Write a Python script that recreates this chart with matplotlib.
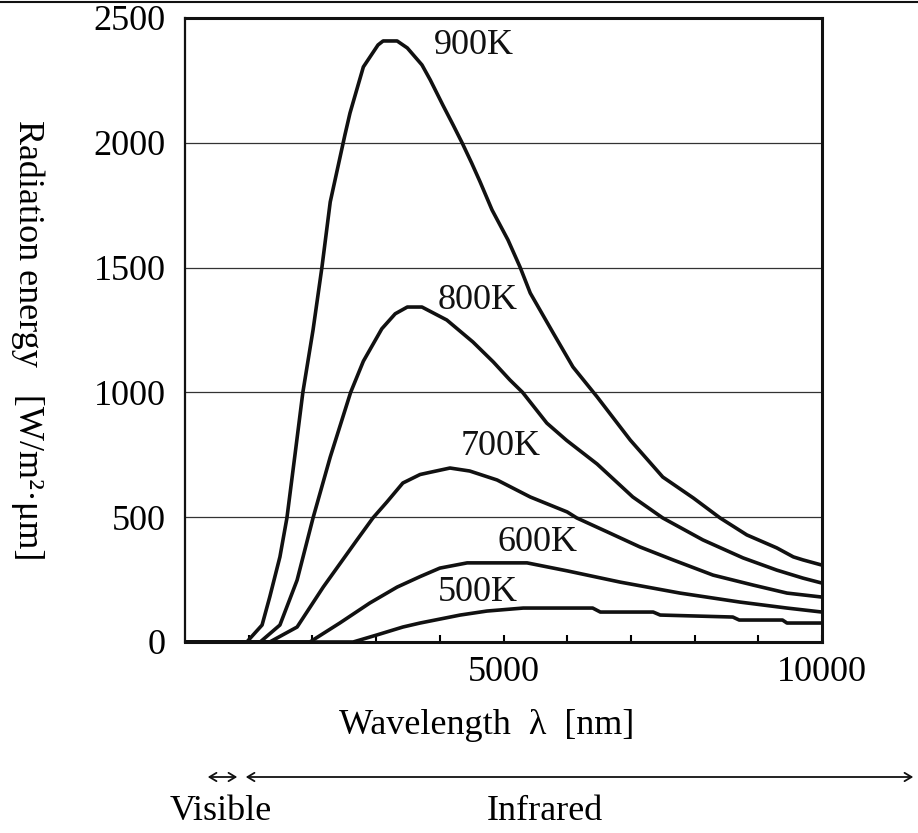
import matplotlib
matplotlib.use("Agg")
import matplotlib.pyplot as plt
from matplotlib.lines import Line2D

plt.rcParams['font.family'] = ['Liberation Serif', 'DejaVu Serif']
plt.rcParams['mathtext.fontset'] = 'stix'

# ---- data ----
wl_900 = [0, 970, 1210, 1330, 1490, 1600, 1730, 1850, 2010, 2150, 2280, 2510, 2590, 2800, 3030, 3110,
          3330, 3490, 3720, 3850, 4050, 4210, 4350, 4500, 4630, 4820, 5070, 5260, 5420, 5780, 6090,
          6470, 6990, 7500, 7980, 8400, 8820, 9290, 9550, 9700, 10000]
val_900 = [0, 0, 68, 180, 341, 497, 757, 1000, 1250, 1502, 1763, 2031, 2119, 2304, 2392, 2408,
           2408, 2380, 2312, 2252, 2150, 2071, 2000, 1919, 1845, 1731, 1611, 1502, 1398, 1238, 1102,
           982, 809, 661, 577, 497, 429, 377, 341, 329, 308]

wl_800 = [0, 1180, 1490, 1760, 2010, 2280, 2600, 2800, 3090, 3300, 3490, 3720, 4110, 4520, 4840,
          5100, 5300, 5680, 5990, 6470, 7030, 7500, 8130, 8760, 9290, 9700, 10000]
val_800 = [0, 0, 68, 248, 497, 741, 1000, 1125, 1255, 1315, 1342, 1342, 1290, 1202, 1122,
           1050, 1000, 877, 808, 713, 581, 497, 409, 337, 288, 256, 236]

wl_700 = [0, 1330, 1760, 2170, 2700, 2950, 3170, 3420, 3690, 3850, 4160, 4470, 4900, 5420, 6000,
          6150, 6630, 7140, 7660, 8290, 8920, 9450, 10000]
val_700 = [0, 0, 60, 220, 409, 497, 561, 637, 671, 680, 697, 685, 649, 581, 521,
           497, 441, 381, 329, 268, 228, 196, 180]

wl_600 = [0, 1960, 2430, 2900, 3330, 3690, 4000, 4430, 5370, 6000, 6830, 7770, 8710, 9450, 10000]
val_600 = [0, 0, 76, 156, 220, 262, 296, 317, 317, 285, 240, 196, 160, 136, 120]

wl_500 = [0, 2640, 3010, 3420, 3690, 4320, 4740, 5310, 6400, 6520, 7350, 7460, 8600, 8700, 9380,
          9450, 10000]
val_500 = [0, 0, 28, 60, 76, 108, 124, 136, 136, 120, 120, 108, 100, 88, 88, 76, 76]

curve_labels = ["900K", "800K", "700K", "600K", "500K"]
y_ticks = [0, 500, 1000, 1500, 2000, 2500]
x_ticks = [1000, 2000, 3000, 4000, 5000, 6000, 7000, 8000, 9000, 10000]
x_ticklabels = ["", "", "", "", "5000", "", "", "", "", "10000"]

# label anchor positions (data coords)
label_pos = [(4540, 2388), (4590, 1370), (4960, 785), (5530, 397), (4590, 200)]

W, H = 918, 833
fig = plt.figure(figsize=(W / 100, H / 100), dpi=100)
ax = fig.add_axes([185 / W, 1 - 642 / H, (822 - 185) / W, (642 - 18) / H])

FS = 26

for y in [500, 1000, 1500, 2000]:
    ax.axhline(y, color='#333333', lw=0.9, zorder=1)

series = [(wl_900, val_900), (wl_800, val_800), (wl_700, val_700), (wl_600, val_600), (wl_500, val_500)]
for (wl, v) in series:
    ax.plot(wl, v, color='#111111', lw=2.6, solid_joinstyle='round', solid_capstyle='round', zorder=3)

for lab, (px, py) in zip(curve_labels, label_pos):
    ax.text(px, py, lab, fontsize=FS, ha='center', va='center', color='#111111', zorder=4)

ax.set_xlim(0, 10000)
ax.set_ylim(0, 2500)
ax.set_yticks(y_ticks)
ax.set_yticklabels([str(t) for t in y_ticks])
ax.set_xticks(x_ticks)
ax.set_xticklabels(x_ticklabels)
ax.tick_params(axis='y', length=0, pad=14, labelsize=FS)
ax.tick_params(axis='x', direction='in', length=5, width=1.5, pad=10, labelsize=FS)

for side in ['top', 'right', 'bottom']:
    ax.spines[side].set_linewidth(2.2)
ax.spines['left'].set_linewidth(1.6)
for s in ax.spines.values():
    s.set_color('#111111')
    s.set_zorder(5)

fig.text(487 / W, 1 - 725 / H, "Wavelength  λ  [nm]", fontsize=FS, ha='center', va='center')
fig.text(28 / W, 1 - 340 / H, "Radiation energy   [W/m²·μm]", fontsize=FS, rotation=-90,
         ha='center', va='center')

# top rule
fig.add_artist(Line2D([0, 1], [1 - 1.5 / H, 1 - 1.5 / H], color='#111111', lw=1.5))

# region arrows
ya = 1 - 777 / H
fig.add_artist(matplotlib.patches.FancyArrowPatch((205 / W, ya), (240 / W, ya), transform=fig.transFigure,
                                                  arrowstyle='<->,head_length=5,head_width=3', lw=1.3,
                                                  color='#111111', mutation_scale=1))
fig.add_artist(matplotlib.patches.FancyArrowPatch((243 / W, ya), (916 / W, ya), transform=fig.transFigure,
                                                  arrowstyle='<->,head_length=5,head_width=3', lw=1.3,
                                                  color='#111111', mutation_scale=1))
fig.text(221 / W, 1 - 811 / H, "Visible", fontsize=FS, ha='center', va='center')
fig.text(545 / W, 1 - 811 / H, "Infrared", fontsize=FS, ha='center', va='center')

fig.savefig("out.png", dpi=100)
